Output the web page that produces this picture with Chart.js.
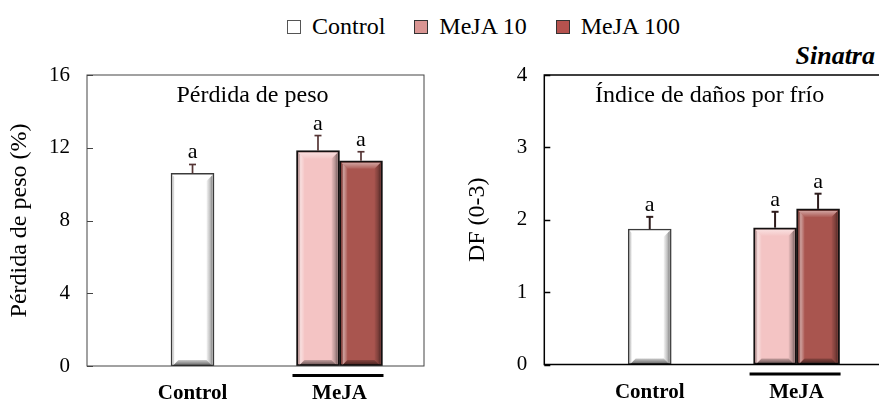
<!DOCTYPE html>
<html>
<head>
<meta charset="utf-8">
<script src="https://cdn.jsdelivr.net/npm/chart.js@4/dist/chart.umd.min.js"></script>
<style>
  html, body { margin: 0; padding: 0; background: #fff; width: 879px; height: 401px; overflow: hidden; position: relative; color: #000; }
  #legend, #legend span, #cultivar { font-family: 'Liberation Serif', 'Times New Roman', serif; }
  #legend { position: absolute; left: 287px; top: 12px; display: flex; align-items: center; font-size: 24px; line-height: 28px; white-space: nowrap; }
  .item { display: flex; align-items: center; margin-right: 29px; }
  .swatch { width: 14px; height: 14px; box-sizing: border-box; border: 1px solid #333; margin-right: 11px; margin-top: 2px; }
  #cultivar { position: absolute; right: 4px; top: 41px; font-size: 26px; line-height: 30px; font-weight: bold; font-style: italic; }
  canvas { position: absolute; top: 0; }
  #pesoChart { left: 0; }
  #dfChart { left: 440px; }
</style>
</head>
<body>
<div id="legend"></div>
<div id="cultivar">Sinatra</div>
<canvas id="pesoChart" width="440" height="401"></canvas>
<canvas id="dfChart" width="445" height="401"></canvas>
<script>
// Treatment groups on the x axis and the three series
const categories = ['Control', 'MeJA'];
const seriesNames = ['Control', 'MeJA 10', 'MeJA 100'];
const seriesGroup = [1, 2, 2];            // position of each series on the x axis (1 = Control, 2 = MeJA)

// Weight loss (%)
const pesoValues = [10.59, 11.84, 11.28];
const pesoErrors = [0.49, 0.83, 0.50];
const pesoLetters = ['a', 'a', 'a'];
const pesoTicks = [0, 4, 8, 12, 16];

// Chilling injury index (0-3)
const dfValues = [1.87, 1.89, 2.15];
const dfErrors = [0.17, 0.22, 0.21];
const dfLetters = ['a', 'a', 'a'];
const dfTicks = [0, 1, 2, 3, 4];

// Colours
const barFill = ['#ffffff', '#f4c4c4', '#a9554f'];
const barBorder = ['#3a3a3a', '#141010', '#141010'];
const legendFill = ['#ffffff', '#d99593', '#b5524e'];

const SERIF = "'Liberation Serif', 'Times New Roman', serif";
Chart.defaults.font.family = SERIF;
Chart.defaults.color = '#000';

// Legend shared by both panels
const legendEl = document.getElementById('legend');
seriesNames.forEach((name, i) => {
  const item = document.createElement('div');
  item.className = 'item';
  const sw = document.createElement('span');
  sw.className = 'swatch';
  sw.style.background = legendFill[i];
  if (i === 0) sw.style.borderColor = '#555';
  const tx = document.createElement('span');
  tx.textContent = name;
  item.appendChild(sw);
  item.appendChild(tx);
  legendEl.appendChild(item);
});

function borderOf(chart, di) {
  return chart.data.datasets[di].borderWidth || 0;
}

// Bevelled look of each bar, error bars, letters, frame, inner title and group underline
const panelDecor = {
  id: 'panelDecor',
  afterDatasetsDraw(chart, args, opts) {
    const ctx = chart.ctx;
    const area = chart.chartArea;
    const yScale = chart.scales.y;
    const bars = [];
    chart.data.datasets.forEach((ds, di) => {
      const meta = chart.getDatasetMeta(di);
      meta.data.forEach((el, j) => {
        const v = ds.data[j].y;
        if (v === null || v === undefined) return;
        bars.push({ el, di, v });
      });
    });

    // bevel
    bars.forEach(({ el, di }) => {
      const p = el.getProps(['x', 'y', 'base', 'width'], true);
      const bw = borderOf(chart, di);
      const l = p.x - p.width / 2 + bw, r = p.x + p.width / 2 - bw;
      const t = Math.min(p.y, p.base) + bw, b = Math.max(p.y, p.base);
      const s = 6;
      ctx.save();
      let g = ctx.createLinearGradient(l, 0, l + s, 0);
      g.addColorStop(0, 'rgba(0,0,0,0.18)');
      g.addColorStop(0.35, 'rgba(255,255,255,0.45)');
      g.addColorStop(1, 'rgba(255,255,255,0.05)');
      ctx.fillStyle = g;
      ctx.beginPath(); ctx.moveTo(l, t); ctx.lineTo(l + s, t + s); ctx.lineTo(l + s, b - s); ctx.lineTo(l, b); ctx.closePath(); ctx.fill();
      g = ctx.createLinearGradient(0, t, 0, t + s);
      g.addColorStop(0, 'rgba(255,255,255,0.45)');
      g.addColorStop(1, 'rgba(255,255,255,0.05)');
      ctx.fillStyle = g;
      ctx.beginPath(); ctx.moveTo(l, t); ctx.lineTo(r, t); ctx.lineTo(r - s, t + s); ctx.lineTo(l + s, t + s); ctx.closePath(); ctx.fill();
      g = ctx.createLinearGradient(r - s, 0, r, 0);
      g.addColorStop(0, 'rgba(0,0,0,0.04)');
      g.addColorStop(0.6, 'rgba(0,0,0,0.25)');
      g.addColorStop(1, 'rgba(0,0,0,0.5)');
      ctx.fillStyle = g;
      ctx.beginPath(); ctx.moveTo(r, t); ctx.lineTo(r, b); ctx.lineTo(r - s, b - s); ctx.lineTo(r - s, t + s); ctx.closePath(); ctx.fill();
      g = ctx.createLinearGradient(0, b - s, 0, b);
      g.addColorStop(0, 'rgba(0,0,0,0.2)');
      g.addColorStop(1, 'rgba(0,0,0,0.65)');
      ctx.fillStyle = g;
      ctx.beginPath(); ctx.moveTo(l, b); ctx.lineTo(r, b); ctx.lineTo(r - s, b - s); ctx.lineTo(l + s, b - s); ctx.closePath(); ctx.fill();
      ctx.restore();
    });

    // frame around the plot area and inward tick marks
    ctx.save();
    ctx.strokeStyle = opts.frameColor;
    ctx.lineWidth = opts.frameWidth;
    ctx.strokeRect(area.left, area.top, area.right - area.left, area.bottom - area.top);
    yScale.ticks.forEach(t => {
      const py = Math.round(yScale.getPixelForValue(t.value)) + 0.5;
      ctx.beginPath(); ctx.moveTo(area.left, py); ctx.lineTo(area.left + 6, py); ctx.stroke();
    });
    ctx.restore();

    // error bars and letters
    bars.forEach(({ el, di, v }) => {
      const p = el.getProps(['x', 'y'], true);
      const err = opts.errors[di];
      const yTop = yScale.getPixelForValue(v + err);
      ctx.save();
      ctx.strokeStyle = opts.errColor;
      ctx.lineWidth = opts.errWidth;
      ctx.beginPath(); ctx.moveTo(p.x, p.y); ctx.lineTo(p.x, yTop); ctx.stroke();
      ctx.beginPath(); ctx.moveTo(p.x - 3.5, yTop); ctx.lineTo(p.x + 3.5, yTop); ctx.stroke();
      ctx.fillStyle = '#000';
      ctx.font = '22px ' + SERIF;
      ctx.textAlign = 'center';
      ctx.textBaseline = 'alphabetic';
      ctx.fillText(opts.letters[di], p.x, yTop - 6);
      ctx.restore();
    });

    // inner panel title
    ctx.save();
    ctx.fillStyle = '#000';
    ctx.font = '24px ' + SERIF;
    ctx.textAlign = 'center';
    ctx.textBaseline = 'alphabetic';
    ctx.fillText(opts.title, (area.left + area.right) / 2 - 3, area.top + 27);
    ctx.restore();

    // underline grouping the MeJA bars
    const grp = bars.filter(b => seriesGroup[b.di] === 2).map(b => b.el.getProps(['x', 'width'], true));
    if (grp.length) {
      const x0 = Math.min(...grp.map(g => g.x - g.width / 2)) - 4;
      const x1 = Math.max(...grp.map(g => g.x + g.width / 2)) + 1;
      ctx.save();
      ctx.fillStyle = '#000';
      ctx.fillRect(x0, area.bottom + 8, x1 - x0, 3);
      ctx.restore();
    }
  }
};

function makePanel(canvasId, cfg) {
  const datasets = seriesNames.map((name, i) => ({
    label: name,
    data: categories.map((c, k) => ({ x: k + 1, y: seriesGroup[i] === k + 1 ? cfg.values[i] : null })),
    backgroundColor: barFill[i],
    borderColor: barBorder[i],
    borderWidth: i === 0 ? 1.5 : 2,
    borderSkipped: false,
    barThickness: 43,
    skipNull: true
  }));
  return new Chart(document.getElementById(canvasId), {
    type: 'bar',
    data: { datasets },
    options: {
      responsive: false,
      animation: false,
      devicePixelRatio: 1,
      layout: { padding: { top: 75, right: cfg.rightPad, bottom: 0, left: 0 } },
      plugins: {
        legend: { display: false },
        tooltip: { enabled: false },
        panelDecor: {
          errors: cfg.errors, letters: cfg.letters, title: cfg.title,
          frameColor: cfg.frameColor, frameWidth: cfg.frameWidth,
          errColor: cfg.errColor, errWidth: cfg.errWidth
        }
      },
      scales: {
        x: {
          type: 'linear',
          min: 0.282, max: 2.575,
          offset: false,
          grid: { display: false, drawTicks: false, offset: false },
          border: { display: false },
          afterBuildTicks: s => { s.ticks = categories.map((c, k) => ({ value: k + 1 })); },
          afterFit: s => { s.height = cfg.xHeight; },
          ticks: {
            autoSkip: false,
            padding: 15,
            maxRotation: 0,
            font: { size: 21, weight: 'bold', family: SERIF },
            color: '#000',
            callback: v => categories[v - 1]
          }
        },
        y: {
          min: cfg.ticks[0], max: cfg.ticks[cfg.ticks.length - 1],
          grid: { display: false, drawTicks: false },
          border: { display: false },
          afterBuildTicks: s => { s.ticks = cfg.ticks.map(v => ({ value: v })); },
          afterFit: s => { s.width = cfg.yWidth; },
          ticks: { padding: 17, font: { size: 21, family: SERIF }, color: '#000' },
          title: {
            display: true, text: cfg.yTitle, color: '#000',
            font: { size: 24, family: SERIF },
            padding: { top: cfg.titlePad, bottom: 0 }
          }
        }
      }
    },
    plugins: [panelDecor]
  });
}

makePanel('pesoChart', {
  values: pesoValues, errors: pesoErrors, letters: pesoLetters, ticks: pesoTicks,
  yTitle: 'Pérdida de peso (%)', title: 'Pérdida de peso',
  yWidth: 87, rightPad: 16, xHeight: 35, titlePad: 5.6,
  frameColor: '#444', frameWidth: 1, errColor: '#553535', errWidth: 1.7
});
makePanel('dfChart', {
  values: dfValues, errors: dfErrors, letters: dfLetters, ticks: dfTicks,
  yTitle: 'DF (0-3)', title: 'Índice de daños por frío',
  yWidth: 104.3, rightPad: 4, xHeight: 36.5, titlePad: 23.6,
  frameColor: '#000', frameWidth: 1.5, errColor: '#2e1c1c', errWidth: 2
});
</script>
</body>
</html>
